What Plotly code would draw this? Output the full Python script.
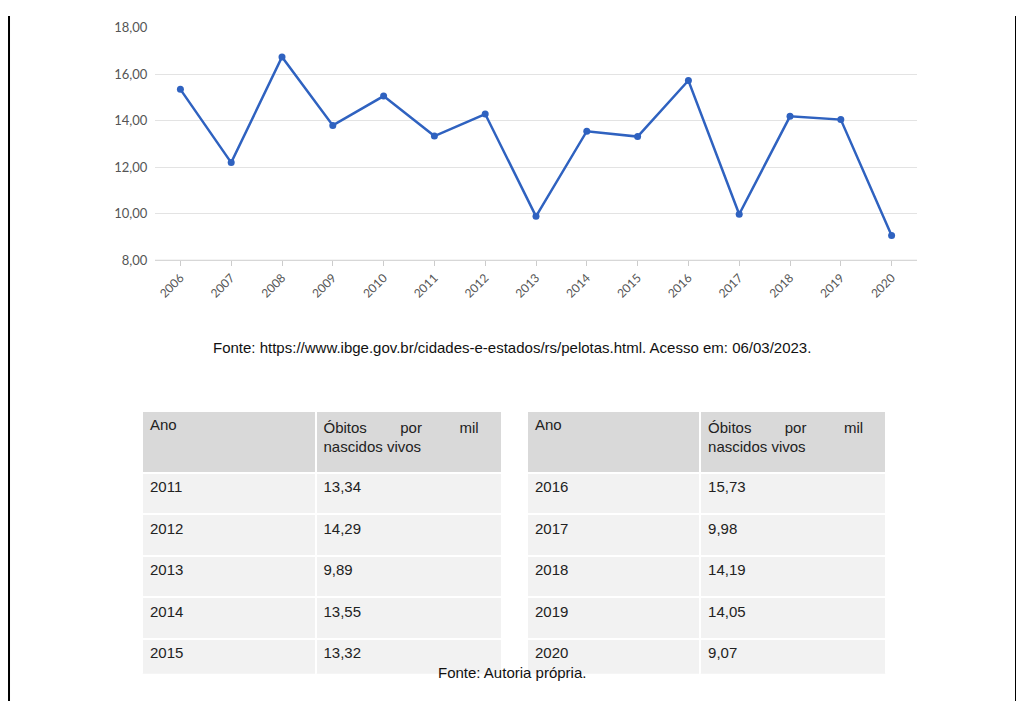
import plotly.graph_objects as go

anos = list(range(2006, 2021))
obitos = [15.35, 12.20, 16.74, 13.80, 15.06, 13.34, 14.29, 9.89, 13.55, 13.32, 15.73, 9.98, 14.19, 14.05, 9.07]

anos_t1 = ["2011", "2012", "2013", "2014", "2015"]
val_t1 = ["13,34", "14,29", "9,89", "13,55", "13,32"]
anos_t2 = ["2016", "2017", "2018", "2019", "2020"]
val_t2 = ["15,73", "9,98", "14,19", "14,05", "9,07"]
cabecalho = ["Ano", "Óbitos&nbsp;&nbsp;&nbsp;&nbsp;&nbsp;&nbsp;&nbsp;&nbsp;por&nbsp;&nbsp;&nbsp;&nbsp;&nbsp;&nbsp;&nbsp;&nbsp;&nbsp;mil<br>nascidos vivos"]

# the page body has an 8px margin, so the figure is 1008x701 shifted by 8px
W, H = 1008, 701
def px(x):
    return (x - 8) / W
def py(y):
    return 1 - (y - 8) / H

fig = go.Figure()

fig.add_trace(go.Scatter(x=anos, y=obitos, mode="lines+markers",
                         line=dict(color="#2f62c0", width=2.5),
                         marker=dict(size=7, color="#2f62c0")))

def tabela(anos_col, vals, x0, x1):
    return go.Table(
        domain=dict(x=[px(x0), px(x1)], y=[py(682), py(412)]),
        columnwidth=[174, 187],
        header=dict(values=cabecalho, fill_color="#d9d9d9", align="left",
                    height=62, line=dict(color="white", width=2),
                    font=dict(family="Liberation Sans", size=15, color="#222")),
        cells=dict(values=[anos_col, vals], fill_color="#f2f2f2", align="left",
                   height=41.5, line=dict(color="white", width=2),
                   font=dict(family="Liberation Sans", size=15, color="#222")))

fig.add_trace(tabela(anos_t1, val_t1, 142, 503))
fig.add_trace(tabela(anos_t2, val_t2, 527, 886))

fig.update_layout(
    width=W, height=H, margin=dict(l=0, r=0, t=0, b=0),
    paper_bgcolor="white", plot_bgcolor="white", showlegend=False,
    separators=",.",
    font=dict(family="Lato", color="#555"),
    xaxis=dict(domain=[px(155), px(917)], range=[2005.5, 2020.5],
               tickvals=anos, tickangle=-45, showgrid=False, zeroline=False,
               ticks="outside", ticklen=5, tickcolor="#ccc",
               tickfont=dict(size=12, color="#555")),
    yaxis=dict(domain=[py(258), py(20)], range=[8, 18], dtick=2,
               tickformat=".2f", gridcolor="#e3e3e3", zeroline=False,
               tickfont=dict(size=13, color="#555"), ticksuffix="  "),
    shapes=[
        dict(type="line", xref="paper", yref="paper", x0=0.001, x1=0.001, y0=0, y1=1,
             line=dict(color="black", width=2)),
        dict(type="line", xref="paper", yref="paper", x0=px(1016), x1=px(1016), y0=0, y1=1,
             line=dict(color="black", width=2)),
        dict(type="line", xref="paper", yref="paper", x0=px(155), x1=px(917),
             y0=py(258), y1=py(258), line=dict(color="#ccc", width=1)),
    ],
    annotations=[
        dict(text="Fonte: https://www.ibge.gov.br/cidades-e-estados/rs/pelotas.html. Acesso em: 06/03/2023.",
             x=px(512), y=py(347), xref="paper", yref="paper", showarrow=False,
             font=dict(family="Liberation Sans", size=15, color="#111")),
        dict(text="Fonte: Autoria própria.",
             x=px(512), y=py(691), xref="paper", yref="paper", showarrow=False,
             font=dict(family="Liberation Sans", size=15, color="#111")),
    ],
)

fig.write_html("out.html")
